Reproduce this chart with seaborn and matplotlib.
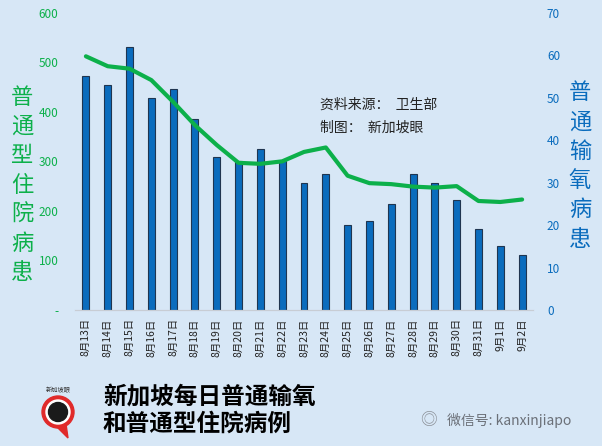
import numpy as np
import pandas as pd
import seaborn as sns
import matplotlib.pyplot as plt
from matplotlib.patches import Circle, Polygon

# 数据
dates = ["8月13日", "8月14日", "8月15日", "8月16日", "8月17日", "8月18日", "8月19日",
         "8月20日", "8月21日", "8月22日", "8月23日", "8月24日", "8月25日", "8月26日",
         "8月27日", "8月28日", "8月29日", "8月30日", "8月31日", "9月1日", "9月2日"]
oxygen = [55, 53, 62, 50, 52, 45, 36, 35, 38, 35, 30, 32, 20, 21, 25, 32, 30, 26, 19, 15, 13]
hospital = [512, 492, 487, 464, 420, 373, 333, 297, 295, 300, 319, 328, 271, 256,
            254, 249, 247, 250, 220, 218, 223]
left_ticks = [0, 100, 200, 300, 400, 500, 600]
left_labels = ["-", "100", "200", "300", "400", "500", "600"]
right_ticks = [0, 10, 20, 30, 40, 50, 60, 70]

bg = "#d7e7f6"
blue = "#0a6cbd"
green = "#0cb04a"

sns.set_style("white")
plt.rcParams['font.family'] = ['Noto Sans CJK SC', 'DejaVu Sans']

fig = plt.figure(figsize=(6.02, 4.46), dpi=100, facecolor=bg)
ax = fig.add_axes([75 / 602, 1 - 310 / 446, 458 / 602, 297.3 / 446])
ax2 = ax.twinx()

df = pd.DataFrame({"date": dates, "oxygen": oxygen, "hospital": hospital})

# 柱状：普通输氧（右轴）
sns.barplot(data=df, x="date", y="oxygen", ax=ax2, color=blue, width=0.32,
            edgecolor="#1f3550", linewidth=0.8, saturation=1)
# 折线：普通型住院（左轴）
sns.lineplot(x=np.arange(len(dates)), y=df["hospital"], ax=ax, color=green, linewidth=3)

ax.set_zorder(ax2.get_zorder() + 1)
ax.patch.set_visible(False)
ax2.patch.set_visible(False)

ax.set_xlim(-0.5, len(dates) - 0.5)
ax2.set_xlim(-0.5, len(dates) - 0.5)
ax.set_ylim(0, 600)
ax2.set_ylim(0, 70)

ax.set_yticks(left_ticks)
ax.set_yticklabels(left_labels, color=green, fontsize=8.5)
ax2.set_yticks(right_ticks)
ax2.set_yticklabels([str(t) for t in right_ticks], color=blue, fontsize=8.5)
ax.tick_params(axis="y", length=0, pad=12)
ax2.tick_params(axis="y", length=0, pad=10)

ax.set_xticks(range(len(dates)))
ax.set_xticklabels(dates, rotation=90, fontsize=7.5, color="#222222")
ax.tick_params(axis="x", length=0, pad=6)
ax2.set_xlabel("")
ax2.set_ylabel("")
ax.set_xlabel("")
ax.set_ylabel("")

for a in (ax, ax2):
    for s in ["top", "left", "right"]:
        a.spines[s].set_visible(False)
    a.spines["bottom"].set_color("#c8cdd4")
    a.spines["bottom"].set_linewidth(0.8)

# 纵向轴标题
fig.text(22 / 602, 1 - 185 / 446, "\n".join("普通型住院病患"), color=green,
         fontsize=16, ha="center", va="center", linespacing=1.35)
fig.text(580 / 602, 1 - 166 / 446, "\n".join("普通输氧病患"), color=blue,
         fontsize=16, ha="center", va="center", linespacing=1.35)

# 注释
fig.text(320 / 602, 1 - 105 / 446, "资料来源：  卫生部", fontsize=10, color="#222222", va="center")
fig.text(320 / 602, 1 - 128 / 446, "制图：  新加坡眼", fontsize=10, color="#222222", va="center")

# 底部标题
fig.text(103 / 602, 1 - 396 / 446, "新加坡每日普通输氧", fontsize=17, fontweight="bold",
         color="black", va="center")
fig.text(103 / 602, 1 - 424 / 446, "和普通型住院病例", fontsize=17, fontweight="bold",
         color="black", va="center")

# 简易标志
logo_ax = fig.add_axes([30 / 602, 1 - 446 / 446, 60 / 602, 70 / 446])
logo_ax.set_xlim(0, 60)
logo_ax.set_ylim(0, 70)
logo_ax.axis("off")
logo_ax.add_patch(Polygon([[24, 22], [36, 22], [38, 8]], closed=True, color="#e02a2a"))
logo_ax.add_patch(Circle((28, 34), 16, color="#e02a2a"))
logo_ax.add_patch(Circle((28, 34), 12, color="white"))
logo_ax.add_patch(Circle((28, 34), 9.5, color="#1a1a1a"))
logo_ax.text(28, 56, "新加坡眼", fontsize=4.5, ha="center", va="center", color="#333333")

# 水印
fig.text(420 / 602, 1 - 421 / 446, "◎", fontsize=12, color="#8a8f96", va="center")
fig.text(447 / 602, 1 - 421 / 446, "微信号: kanxinjiapo", fontsize=10, color="#6b7078", va="center")

fig.savefig("out.png", dpi=100, facecolor=bg)
